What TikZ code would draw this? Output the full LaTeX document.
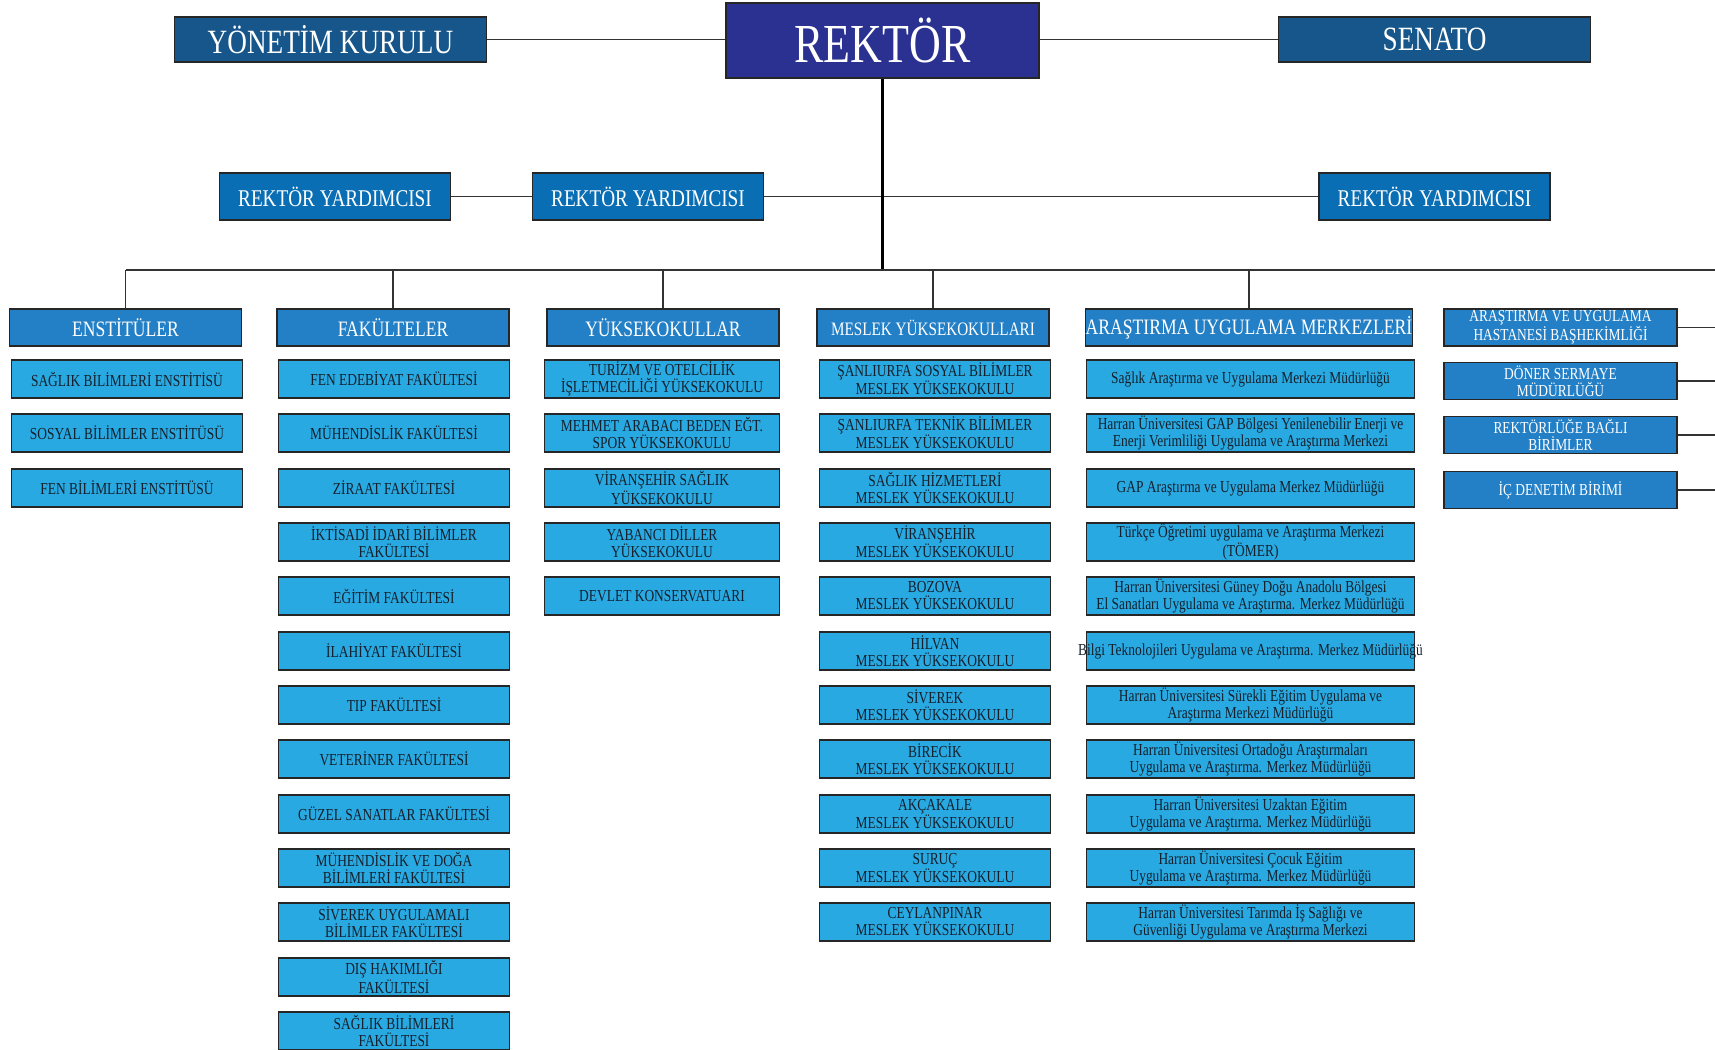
\documentclass[tikz,border=0pt]{standalone}
\usepackage{fontspec}
\setmainfont{Liberation Serif}[FakeStretch=0.8]
\usepackage{tikz}
\usetikzlibrary{positioning}
\definecolor{rektorblue}{HTML}{2B3190}
\definecolor{boardblue}{HTML}{17568A}
\definecolor{deputyblue}{HTML}{0A6EB5}
\definecolor{headblue}{HTML}{2480C6}
\definecolor{unitblue}{HTML}{29A9E1}
\definecolor{unittext}{HTML}{15202C}
\begin{document}
\begin{tikzpicture}[x=1pt, y=-1pt,
	anybox/.style={draw=black!85, line width=1.4pt, inner sep=0pt, align=center},
	rektorbox/.style={anybox, fill=rektorblue, text=white, minimum width=313pt, minimum height=75pt, font=\fontsize{55}{57}\selectfont},
	boardbox/.style={anybox, fill=boardblue, text=white, minimum width=312pt, minimum height=45pt, font=\fontsize{34}{36}\selectfont},
	deputybox/.style={anybox, fill=deputyblue, text=white, minimum width=231pt, minimum height=47pt, font=\fontsize{24}{26}\selectfont},
	headbox/.style={anybox, fill=headblue, text=white, minimum width=232pt, minimum height=37pt, font=\fontsize{22}{24}\selectfont},
	sidebox/.style={anybox, fill=headblue, text=white, minimum width=233pt, minimum height=37pt, font=\fontsize{16.8}{17}\selectfont},
	unitbox/.style={anybox, fill=unitblue, text=unittext, minimum width=231pt, minimum height=38pt, font=\fontsize{16.8}{17}\selectfont},
	centerbox/.style={unitbox, minimum width=328pt},
	link/.style={draw=black!80, line width=1.3pt},
	trunk/.style={draw=black, line width=2.2pt}]
	\useasboundingbox (0,0) rectangle (1715,1049);
	% top level
	\node[rektorbox] (rektor) at (882.5,40.5) {REKTÖR};
	\node[boardbox] (yonetim) at (330.5,39.5) {YÖNETİM KURULU};
	\node[boardbox] (senato) at (1434.5,39.5) {SENATO};
	\draw[link] (yonetim.east) -- (yonetim.east -| rektor.west);
	\draw[link] (rektor.east |- senato.west) -- (senato.west);
	% rektor yardimcilari
	\node[deputybox] (yard1) at (335,196.5) {REKTÖR YARDIMCISI};
	\node[deputybox] (yard2) at (648,196.5) {REKTÖR YARDIMCISI};
	\node[deputybox] (yard3) at (1434.5,196.5) {REKTÖR YARDIMCISI};
	\draw[link] (yard1) -- (yard2);
	\draw[link] (yard2) -- (yard3);
	% main bus
	\coordinate (bus) at (882.5,270);
	\coordinate (busend) at (1715,270);
	\draw[trunk] (rektor.south) -- (bus);
	% headers
	\node[headbox] (enst) at (125.5,327.5) {ENSTİTÜLER};
	\node[headbox] (fak) at (393,327.5) {FAKÜLTELER};
	\node[headbox] (yuk) at (663,327.5) {YÜKSEKOKULLAR};
	\node[headbox, font=\fontsize{19}{21}\selectfont] (myo) at (933,327.5) {MESLEK YÜKSEKOKULLARI};
	\node[headbox, minimum width=327pt] (merk) at (1249,327.5) {ARAŞTIRMA UYGULAMA MERKEZLERİ};
	\draw[link] (enst.north |- bus) -- (busend);
	\draw[link] (enst.north) -- (enst.north |- bus);
	\draw[link] (fak.north) -- (fak.north |- bus);
	\draw[link] (yuk.north) -- (yuk.north |- bus);
	\draw[link] (myo.north) -- (myo.north |- bus);
	\draw[link] (merk.north) -- (merk.north |- bus);
	% enstituler
	\node[unitbox] (enst1) at (127,379) {SAĞLIK BİLİMLERİ ENSTİTİSÜ};
	\node[unitbox] (enst2) at (127,433) {SOSYAL BİLİMLER ENSTİTÜSÜ};
	\node[unitbox] (enst3) at (127,488) {FEN BİLİMLERİ ENSTİTÜSÜ};
	% fakulteler
	\node[unitbox] (fak1) at (394,379) {FEN EDEBİYAT FAKÜLTESİ};
	\node[unitbox] (fak2) at (394,433) {MÜHENDİSLİK FAKÜLTESİ};
	\node[unitbox] (fak3) at (394,488) {ZİRAAT FAKÜLTESİ};
	\node[unitbox] (fak4) at (394,542) {İKTİSADİ İDARİ BİLİMLER\\FAKÜLTESİ};
	\node[unitbox] (fak5) at (394,596) {EĞİTİM FAKÜLTESİ};
	\node[unitbox] (fak6) at (394,651) {İLAHİYAT FAKÜLTESİ};
	\node[unitbox] (fak7) at (394,705) {TIP FAKÜLTESİ};
	\node[unitbox] (fak8) at (394,759) {VETERİNER FAKÜLTESİ};
	\node[unitbox] (fak9) at (394,814) {GÜZEL SANATLAR FAKÜLTESİ};
	\node[unitbox] (fak10) at (394,868) {MÜHENDİSLİK VE DOĞA\\BİLİMLERİ FAKÜLTESİ};
	\node[unitbox] (fak11) at (394,922) {SİVEREK UYGULAMALI\\BİLİMLER FAKÜLTESİ};
	\node[unitbox] (fak12) at (394,977) {DIŞ HAKIMLIĞI\\FAKÜLTESİ};
	\node[unitbox] (fak13) at (394,1031) {SAĞLIK BİLİMLERİ\\FAKÜLTESİ};
	% yuksekokullar
	\node[unitbox, minimum width=235pt] (yuk1) at (662,379) {TURİZM VE OTELCİLİK\\İŞLETMECİLİĞİ YÜKSEKOKULU};
	\node[unitbox, minimum width=235pt] (yuk2) at (662,433) {MEHMET ARABACI BEDEN EĞT.\\SPOR YÜKSEKOKULU};
	\node[unitbox, minimum width=235pt] (yuk3) at (662,488) {VİRANŞEHİR SAĞLIK\\YÜKSEKOKULU};
	\node[unitbox, minimum width=235pt] (yuk4) at (662,542) {YABANCI DİLLER\\YÜKSEKOKULU};
	\node[unitbox, minimum width=235pt] (yuk5) at (662,596) {DEVLET KONSERVATUARI};
	% meslek yuksekokullari
	\node[unitbox] (myo1) at (935,379) {ŞANLIURFA SOSYAL BİLİMLER\\MESLEK YÜKSEKOKULU};
	\node[unitbox] (myo2) at (935,433) {ŞANLIURFA TEKNİK BİLİMLER\\MESLEK YÜKSEKOKULU};
	\node[unitbox] (myo3) at (935,488) {SAĞLIK HİZMETLERİ\\MESLEK YÜKSEKOKULU};
	\node[unitbox] (myo4) at (935,542) {VİRANŞEHİR\\MESLEK YÜKSEKOKULU};
	\node[unitbox] (myo5) at (935,596) {BOZOVA\\MESLEK YÜKSEKOKULU};
	\node[unitbox] (myo6) at (935,651) {HİLVAN\\MESLEK YÜKSEKOKULU};
	\node[unitbox] (myo7) at (935,705) {SİVEREK\\MESLEK YÜKSEKOKULU};
	\node[unitbox] (myo8) at (935,759) {BİRECİK\\MESLEK YÜKSEKOKULU};
	\node[unitbox] (myo9) at (935,814) {AKÇAKALE\\MESLEK YÜKSEKOKULU};
	\node[unitbox] (myo10) at (935,868) {SURUÇ\\MESLEK YÜKSEKOKULU};
	\node[unitbox] (myo11) at (935,922) {CEYLANPINAR\\MESLEK YÜKSEKOKULU};
	% arastirma merkezleri
	\node[centerbox] (merk1) at (1250.5,379) {Sağlık Araştırma ve Uygulama Merkezi Müdürlüğü};
	\node[centerbox] (merk2) at (1250.5,433) {Harran Üniversitesi GAP Bölgesi Yenilenebilir Enerji ve\\Enerji Verimliliği Uygulama ve Araştırma Merkezi};
	\node[centerbox] (merk3) at (1250.5,488) {GAP Araştırma ve Uygulama Merkez Müdürlüğü};
	\node[centerbox] (merk4) at (1250.5,542) {Türkçe Öğretimi uygulama ve Araştırma Merkezi\\(TÖMER)};
	\node[centerbox] (merk5) at (1250.5,596) {Harran Üniversitesi Güney Doğu Anadolu Bölgesi\\El Sanatları Uygulama ve Araştırma. Merkez Müdürlüğü};
	\node[centerbox] (merk6) at (1250.5,651) {\makebox[310pt]{Bilgi Teknolojileri Uygulama ve Araştırma. Merkez Müdürlüğü}};
	\node[centerbox] (merk7) at (1250.5,705) {Harran Üniversitesi Sürekli Eğitim Uygulama ve\\Araştırma Merkezi Müdürlüğü};
	\node[centerbox] (merk8) at (1250.5,759) {Harran Üniversitesi Ortadoğu Araştırmaları\\Uygulama ve Araştırma. Merkez Müdürlüğü};
	\node[centerbox] (merk9) at (1250.5,814) {Harran Üniversitesi Uzaktan Eğitim\\Uygulama ve Araştırma. Merkez Müdürlüğü};
	\node[centerbox] (merk10) at (1250.5,868) {Harran Üniversitesi Çocuk Eğitim\\Uygulama ve Araştırma. Merkez Müdürlüğü};
	\node[centerbox] (merk11) at (1250.5,922) {Harran Üniversitesi Tarımda İş Sağlığı ve\\Güvenliği Uygulama ve Araştırma Merkezi};
	% rektorluge bagli birimler
	\node[sidebox] (side1) at (1560.5,327.5) {ARAŞTIRMA VE UYGULAMA\\HASTANESİ BAŞHEKİMLİĞİ};
	\node[sidebox] (side2) at (1560.5,381) {DÖNER SERMAYE\\MÜDÜRLÜĞÜ};
	\node[sidebox] (side3) at (1560.5,435) {REKTÖRLÜĞE BAĞLI\\BİRİMLER};
	\node[sidebox] (side4) at (1560.5,490) {İÇ DENETİM BİRİMİ};
	\draw[link] (side1.east) -- (side1.east -| busend);
	\draw[link] (side2.east) -- (side2.east -| busend);
	\draw[link] (side3.east) -- (side3.east -| busend);
	\draw[link] (side4.east) -- (side4.east -| busend);
\end{tikzpicture}
\end{document}
